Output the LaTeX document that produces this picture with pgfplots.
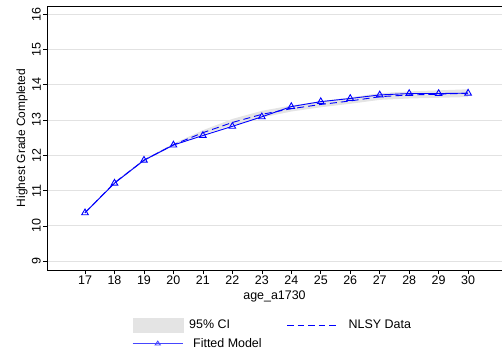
\documentclass[border=0pt]{standalone}
\usepackage{pgfplots}
\pgfplotsset{compat=1.18}
\usepackage{fontspec}
\setmainfont{Liberation Sans}
\definecolor{cigray}{RGB}{228,228,228}
\definecolor{gridgray}{RGB}{226,226,226}
\definecolor{stblue}{RGB}{0,0,255}
\definecolor{legblue}{RGB}{70,70,255}
\pgfplotsset{
  ciLegend/.style={legend image code/.code={\fill[cigray] (0bp,-7bp) rectangle (50bp,7bp);}},
  lineLegend/.style={legend image code/.code={\draw[stblue, line width=1bp, dash pattern=on 6.5bp off 4bp] (0bp,0bp) -- (50bp,0bp);}},
  markLegend/.style={legend image code/.code={\draw[legblue, line width=0.9pt] (0bp,0bp) -- (50bp,0bp); \draw[legblue, line width=0.9pt] (25bp,2.6bp) -- (22.4bp,-1.3bp) -- (27.6bp,-1.3bp) -- cycle;}},
}
\begin{document}
\fontsize{12.5}{15}\selectfont
\begin{tikzpicture}
\path[use as bounding box] (0,0) rectangle (502bp,355bp);
\begin{axis}[
  at={(47bp,85bp)}, anchor=south west,
  scale only axis, width=455bp, height=264bp,
  xmin=15.71, xmax=31.15, ymin=8.75, ymax=16.23,
  axis x line=box, axis y line=left,
  axis line style={black, line width=0.9pt, -},
  xtick={17,...,30}, ytick={9,...,16},
  xtick pos=lower, ytick pos=left,
  tick align=outside, major tick length=4bp,
  tick style={black, line width=0.6pt},
  ymajorgrids, grid style={gridgray, line width=0.8pt},
  /pgf/number format/assume math mode=true,
  ticklabel style={font=\fontsize{12.5}{15}\selectfont},
  yticklabel style={rotate=90, anchor=south, inner sep=2bp},
  xticklabel style={inner sep=2bp},
  xlabel={age\_a1730}, ylabel={Highest Grade Completed},
  xlabel style={font=\fontsize{12.5}{15}\selectfont, yshift=1bp},
  ylabel style={font=\fontsize{12}{14}\selectfont, yshift=-2bp},
  legend columns=2,
  legend style={draw=none, fill=none, anchor=north west,
    at={(axis description cs:0.187,-0.182)},
    font=\fontsize{12.5}{15}\selectfont,
    /tikz/every even column/.append style={column sep=23bp},
    row sep=3.5bp, inner sep=0pt},
  legend cell align=left,
]
\addplot[draw=none, fill=cigray, forget plot] coordinates {
(17,10.35) (18,11.20) (19,11.83) (20,12.27) (21,12.59) (22,12.85) (23,13.07) (24,13.24) (25,13.36) (26,13.46) (27,13.57) (28,13.61) (29,13.63) (30,13.65)
(30,13.87) (29,13.84) (28,13.81) (27,13.76) (26,13.64) (25,13.53) (24,13.41) (23,13.26) (22,13.03) (21,12.71) (20,12.33) (19,11.89) (18,11.25) (17,10.39)
} -- cycle;
\addlegendimage{ciLegend}
\addlegendentry{\hspace{4bp}95\% CI}
\addplot[stblue, line width=0.9pt, dash pattern=on 7bp off 4bp, lineLegend] coordinates {
(17,10.37) (18,11.22) (19,11.86) (20,12.30) (21,12.64) (22,12.93) (23,13.16) (24,13.32) (25,13.44) (26,13.54) (27,13.66) (28,13.71) (29,13.73) (30,13.76)
};
\addlegendentry{\hspace{9bp}NLSY Data}
\addplot[stblue, line width=0.9pt, mark=triangle, mark size=3.8bp, mark options={solid, line width=0.9pt}, markLegend] coordinates {
(17,10.37) (18,11.21) (19,11.86) (20,12.29) (21,12.56) (22,12.82) (23,13.09) (24,13.38) (25,13.52) (26,13.61) (27,13.71) (28,13.75) (29,13.75) (30,13.76)
};
\addlegendentry{\hspace{8bp}Fitted Model}
\end{axis}
\end{tikzpicture}
\end{document}
